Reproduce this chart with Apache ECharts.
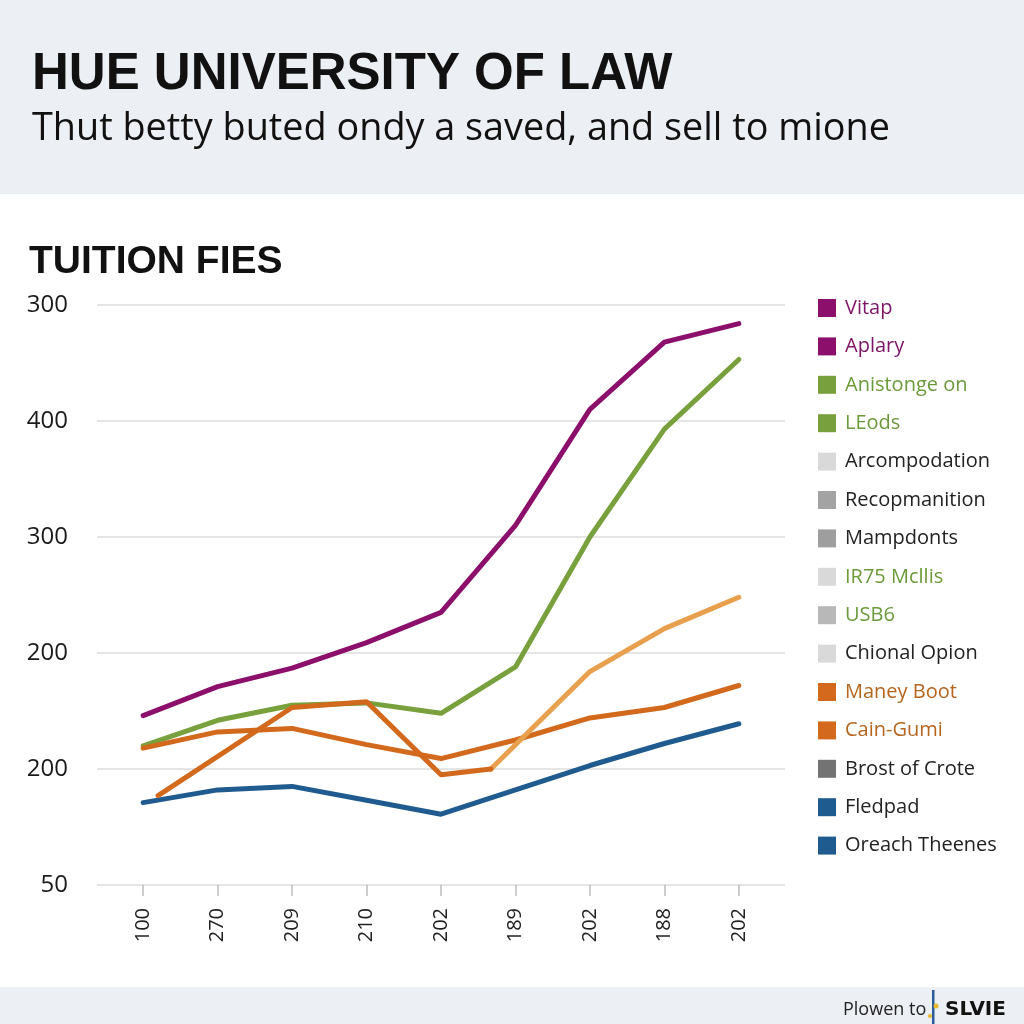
<!DOCTYPE html>
<html>
<head>
<meta charset="utf-8">
<script src="https://cdn.jsdelivr.net/npm/echarts@6/dist/echarts.min.js"></script>
<style>
    html, body { margin: 0; padding: 0; background: #fff; }
    #chart { width: 1024px; height: 1024px; }
</style>
</head>
<body>
<div id="chart"></div>
<script>
// tick labels (x: one per year slot, y: bottom to top as printed)
const xLabels = ['100', '270', '209', '210', '202', '189', '202', '188', '202'];
const yLabels = ['50', '200', '200', '300', '400', '300'];

// line values, one per x slot
const vitap = [146, 171, 187, 209, 235, 310, 410, 468, 484];
const anistonge = [120, 142, 155, 157, 148, 188, 300, 393, 453];
const cainGumi = [118, 132, 135, 121, 109, 125, 144, 153, 172];
const fledpad = [71, 82, 85, 73, 61, 82, 103, 122, 139];

// the zigzag orange line starts and ends between slots
const maneyX = [0.2, 2, 3, 4, 4.67];
const maneyY = [77, 153, 158, 95, 100];
const lightX = [4.67, 6, 7, 8];
const lightY = [100, 184, 221, 248];

// legend entries: name, swatch colour, text colour
const legendNames = ['Vitap', 'Aplary', 'Anistonge on', 'LEods', 'Arcompodation', 'Recopmanition',
    'Mampdonts', 'IR75 Mcllis', 'USB6', 'Chional Opion', 'Maney Boot', 'Cain-Gumi',
    'Brost of Crote', 'Fledpad', 'Oreach Theenes'];
const legendColors = ['#8C0F6B', '#8C0F6B', '#78A03C', '#78A03C', '#D9D9D9', '#A3A3A3',
    '#9E9E9E', '#D9D9D9', '#B8B8B8', '#D9D9D9', '#D2691C', '#D2691C',
    '#737373', '#1F5B8E', '#1F5B8E'];
const legendText = ['#7E1465', '#7E1465', '#6B9A3A', '#6B9A3A', '#222', '#222',
    '#222', '#6B9A3A', '#6B9A3A', '#222', '#B5651D', '#B5651D',
    '#222', '#222', '#222'];

const pairs = (xs, ys) => ys.map((v, i) => [xs[i], v]);
const slots = xLabels.map((t, i) => i);

const lineSeries = (name, color, data) => ({
    name: name,
    type: 'line',
    data: data,
    showSymbol: false,
    color: color,
    lineStyle: { width: 5, color: color, cap: 'round', join: 'round' },
    emphasis: { disabled: true },
    z: 3
});

let series = [
    lineSeries('Vitap', '#8C0F6B', pairs(slots, vitap)),
    lineSeries('Anistonge on', '#78A03C', pairs(slots, anistonge)),
    lineSeries('Cain-Gumi', '#D2691C', pairs(slots, cainGumi)),
    lineSeries('Fledpad', '#1F5B8E', pairs(slots, fledpad)),
    lineSeries('Maney Boot (later)', '#E8A04E', pairs(lightX, lightY)),
    lineSeries('Maney Boot', '#D2691C', pairs(maneyX, maneyY))
];
// legend-only entries have no line of their own
legendNames.forEach((n, i) => {
    if (!series.find(s => s.name === n)) {
        series.push({ name: n, type: 'line', data: [], color: legendColors[i] });
    }
});

const bandColor = '#ECEFF3';

let myChart = echarts.init(document.getElementById('chart'));
let option = {
    backgroundColor: '#fff',
    animation: false,
    graphic: [
        { type: 'rect', shape: { x: 0, y: 0, width: 1024, height: 194 }, style: { fill: bandColor }, z: -10 },
        { type: 'rect', shape: { x: 0, y: 987, width: 1024, height: 37 }, style: { fill: bandColor }, z: -10 },
        {
            type: 'text', x: 32, y: 75,
            style: { text: 'HUE UNIVERSITY OF LAW', fill: '#111', font: 'bold 51px "Liberation Sans"', verticalAlign: 'middle' }
        },
        {
            type: 'text', x: 32, y: 129,
            style: { text: 'Thut betty buted ondy a saved, and sell to mione', fill: '#111', font: '37.8px "Open Sans"', verticalAlign: 'middle' }
        },
        {
            type: 'text', x: 29, y: 262,
            style: { text: 'TUITION FIES', fill: '#111', font: 'bold 39px "Liberation Sans"', verticalAlign: 'middle' }
        },
        {
            type: 'text', x: 843, y: 1010,
            style: { text: 'Plowen to', fill: '#222', font: '18px "Open Sans"', verticalAlign: 'middle' }
        },
        { type: 'rect', shape: { x: 932, y: 990, width: 2.5, height: 34 }, style: { fill: '#2A5C9A' } },
        { type: 'circle', shape: { cx: 936, cy: 1006, r: 2.5 }, style: { fill: '#E8B830' } },
        { type: 'circle', shape: { cx: 930, cy: 1016, r: 2 }, style: { fill: '#E8B830' } },
        {
            type: 'text', x: 945, y: 1010,
            style: { text: 'SLVIE', fill: '#111', font: '900 20px "DejaVu Sans"', verticalAlign: 'middle' }
        }
    ],
    legend: {
        orient: 'vertical',
        left: 813,
        top: 293,
        icon: 'rect',
        itemWidth: 18,
        itemHeight: 18,
        itemGap: 18.4,
        selectedMode: false,
        textStyle: { fontFamily: 'Open Sans', fontSize: 20, lineHeight: 18, padding: [0, 0, 0, 4] },
        data: legendNames.map((n, i) => ({
            name: n,
            itemStyle: { color: legendColors[i] },
            textStyle: { color: legendText[i] }
        }))
    },
    grid: {
        left: 97,
        right: 239,
        top: 305,
        bottom: 139,
        containLabel: false
    },
    xAxis: {
        type: 'value',
        min: -0.62,
        max: 8.62,
        splitLine: { show: false },
        axisLine: { show: false },
        axisTick: {
            show: true,
            customValues: slots,
            length: 11,
            lineStyle: { color: '#BDBDBD', width: 1.5 }
        },
        axisLabel: {
            customValues: slots,
            rotate: 90,
            margin: 23,
            fontFamily: 'Open Sans',
            fontSize: 20,
            color: '#222',
            formatter: (v) => xLabels[Math.round(v)]
        }
    },
    yAxis: {
        type: 'value',
        min: 0,
        max: 500,
        interval: 100,
        axisLine: { show: false },
        axisTick: { show: false },
        splitLine: { lineStyle: { color: '#DDDDDD', width: 1.5 } },
        axisLabel: {
            margin: 29,
            fontFamily: 'Open Sans',
            fontSize: 24,
            color: '#1A1A1A',
            formatter: (v) => yLabels[Math.round(v / 100)]
        }
    },
    series: series
};
myChart.setOption(option);
</script>
</body>
</html>
